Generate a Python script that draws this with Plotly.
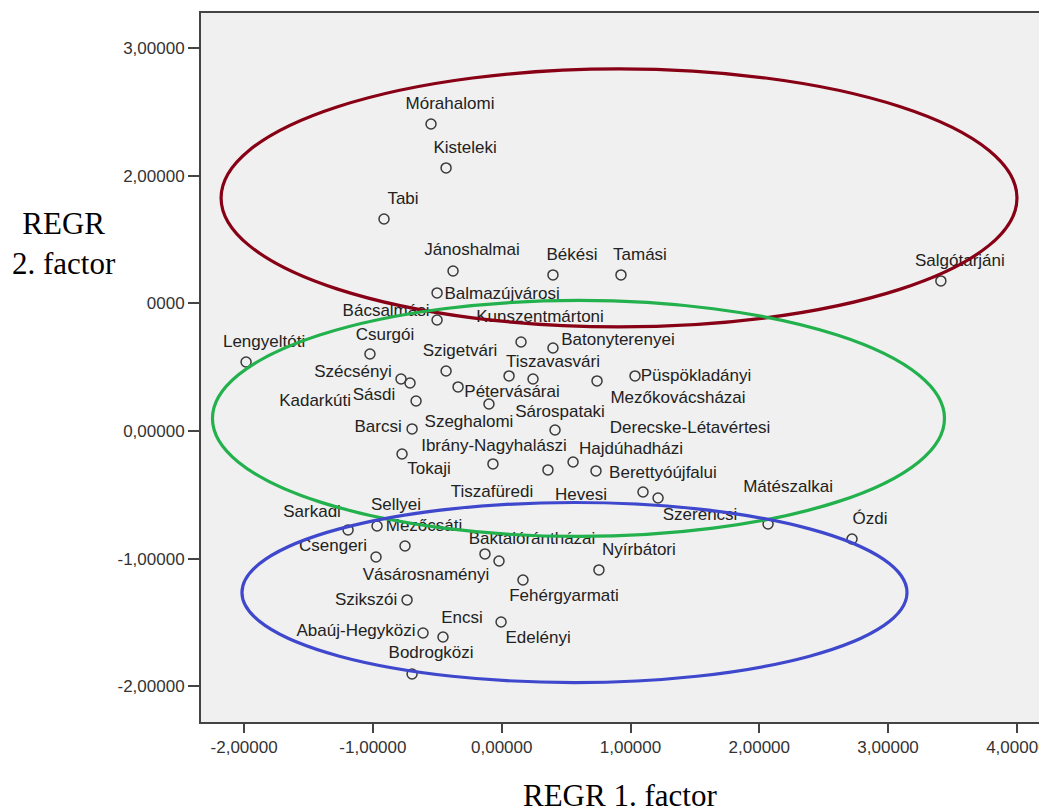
import plotly.graph_objects as go

# ---------------- data ----------------
names = ["Mórahalomi", "Kisteleki", "Tabi", "Jánoshalmai", "Békési", "Tamási",
         "Salgótarjáni", "Balmazújvárosi", "Bácsalmási", "Kunszentmártoni",
         "Batonyterenyei", "Lengyeltóti", "Csurgói", "Szigetvári",
         "Derecske-Létavértesi", "Tiszavasvári", "Mezőkovácsházai",
         "Püspökladányi", "Szécsényi", "Sásdi", "Kadarkúti", "Pétervásárai",
         "Szeghalomi", "Barcsi", "Sárospataki", "Tokaji", "Ibrány-Nagyhalászi",
         "Tiszafüredi", "Hajdúhadházi", "Berettyóújfalui", "Hevesi", "Szerencsi",
         "Mátészalkai", "Ózdi", "Sarkadi", "Sellyei", "Mezőcsáti", "Csengeri",
         "Vásárosnaményi", "Baktalórántházai", "Nyírbátori", "Fehérgyarmati",
         "Szikszói", "Abaúj-Hegyközi", "Encsi", "Edelényi", "Bodrogközi"]

factor1 = [-0.549, -0.432, -0.914, -0.378, 0.398, 0.926, 3.410, -0.502, -0.502,
           0.150, 0.398, -1.985, -1.023, -0.432, 0.057, 0.243, 0.740, 1.035,
           -0.782, -0.712, -0.665, -0.339, -0.099, -0.696, 0.414, -0.774,
           -0.068, 0.359, 0.554, 0.732, 1.097, 1.214, 2.068, 2.720, -1.193,
           -0.968, -0.751, -0.976, -0.130, -0.021, 0.755, 0.165, -0.735,
           -0.611, -0.456, -0.005, -0.696]

factor2 = [2.404, 2.060, 1.660, 1.253, 1.222, 1.222, 1.175, 1.081, 0.869,
           0.697, 0.650, 0.540, 0.603, 0.470, 0.431, 0.407, 0.392, 0.431,
           0.407, 0.376, 0.235, 0.345, 0.211, 0.016, 0.008, -0.180, -0.258,
           -0.305, -0.243, -0.313, -0.478, -0.525, -0.728, -0.846, -0.775,
           -0.744, -0.901, -0.987, -0.963, -1.018, -1.088, -1.167, -1.323,
           -1.582, -1.613, -1.496, -1.903]

x_ticks = [-2, -1, 0, 1, 2, 3, 4]
x_ticktext = ["-2,00000", "-1,00000", "0,00000", "1,00000", "2,00000", "3,00000", "4,00000"]
y_ticks = [-2, -1, 0, 1, 2, 3]
y_ticktext = ["-2,00000", "-1,00000", "0,00000", "1,00000", "2,00000", "3,00000"]

# group ellipses drawn on the chart (x0, x1, y0, y1 in factor units)
ellipse_red = [-2.179, 4.001, 0.815, 2.835]
ellipse_green = [-2.246, 3.438, -0.826, 1.022]
ellipse_blue = [-2.017, 3.147, -1.970, -0.560]

# ---------------- layout / style ----------------
PAGE = 8                      # default page margin around the figure
W, H = 1047 - PAGE, 812 - PAGE
ML, MR, MT, MB = 201 - PAGE, 0, 13 - PAGE, 90
XR = [-2.335, 4.234]
YR = [-2.279, 3.273]
PW, PH = W - ML - MR, H - MT - MB
SX = PW / (XR[1] - XR[0])
SY = PH / (YR[1] - YR[0])


def px_x(p):   # page pixel -> paper x
    return (p - PAGE - ML) / PW


def px_y(p):   # page pixel -> paper y
    return (H - MB - (p - PAGE)) / PH


# label offsets from marker, in pixels (right, down)
label_dx = [19, 19, 19, 19, 19, 19, 19, 65, -51, 19, 65, 18, 15, 14, 181, 20, 81,
            61, -48, -36, -101, 54, -20, -34, 5, 27, 1, -56, 58, 67, -62, 42, 20,
            18, -36, 19, 19, -43, -59, 33, 40, 41, -41, -67, 19, 37, 19]
label_dy = [-19, -19, -19, -20, -19, -19, -19, 2, -8, -24, -7, -19, -18, -19, 53,
            -16, 18, 1, -6, 13, 1, 6, 19, -1, -17, 16, -17, 23, -12, 3, 4, 18,
            -36, -19, -17, -20, -19, -10, 22, -21, -19, 17, 1, -1, -18, 17, -20]

lab_x = [xv + dx / SX for xv, dx in zip(factor1, label_dx)]
lab_y = [yv - dy / SY for yv, dy in zip(factor2, label_dy)]

SANS = "Liberation Sans, Arial, sans-serif"
SERIF = "Liberation Serif, Times New Roman, serif"

fig = go.Figure()

fig.add_trace(go.Scatter(
    x=factor1, y=factor2, mode="markers",
    marker=dict(symbol="circle-open", size=10, color="#3a3a3a",
                line=dict(width=1.5, color="#3a3a3a")),
    hoverinfo="skip", showlegend=False, cliponaxis=False))

fig.add_trace(go.Scatter(
    x=lab_x, y=lab_y, mode="text", text=names, textposition="middle center",
    textfont=dict(family=SANS, size=17, color="#222222"),
    hoverinfo="skip", showlegend=False, cliponaxis=False))

shapes = []
for e, col in [(ellipse_red, "#880015"), (ellipse_green, "#22B14C"), (ellipse_blue, "#3F48CC")]:
    shapes.append(dict(type="circle", xref="x", yref="y",
                       x0=e[0], x1=e[1], y0=e[2], y1=e[3],
                       line=dict(color=col, width=3.2), layer="above"))

# white box behind the left title (covers part of a tick label as in the original)
shapes.append(dict(type="rect", xref="paper", yref="paper",
                   x0=px_x(PAGE), x1=px_x(146.5),
                   y0=px_y(322), y1=px_y(195),
                   fillcolor="white", line=dict(width=0), layer="above"))

fig.update_layout(
    width=W, height=H,
    margin=dict(l=ML, r=MR, t=MT, b=MB, pad=0),
    paper_bgcolor="white", plot_bgcolor="#F0F0F0",
    showlegend=False,
    shapes=shapes,
    xaxis=dict(range=XR, tickvals=x_ticks, ticktext=x_ticktext,
               showgrid=False, zeroline=False, showline=True, mirror=True,
               linecolor="#444444", linewidth=2, ticks="outside", ticklen=9,
               tickwidth=2, tickcolor="#444444", ticklabeloverflow="allow",
               tickfont=dict(family=SANS, size=17, color="#333333")),
    yaxis=dict(range=YR, tickvals=y_ticks, ticktext=y_ticktext,
               showgrid=False, zeroline=False, showline=True, mirror=False,
               linecolor="#444444", linewidth=2, ticks="outside", ticklen=11,
               tickwidth=2, tickcolor="#444444", ticklabelstandoff=0,
               tickfont=dict(family=SANS, size=17, color="#333333")),
    annotations=[
        dict(text="REGR<br>2. factor", xref="paper", yref="paper",
             x=px_x(63.5), y=px_y(243),
             xanchor="center", yanchor="middle", showarrow=False, align="center",
             font=dict(family=SERIF, size=31, color="#000000")),
        dict(text="REGR 1. factor", xref="paper", yref="paper",
             x=px_x(620), y=px_y(795),
             xanchor="center", yanchor="middle", showarrow=False,
             font=dict(family=SERIF, size=31, color="#000000")),
    ],
)

fig.write_html("out.html")
